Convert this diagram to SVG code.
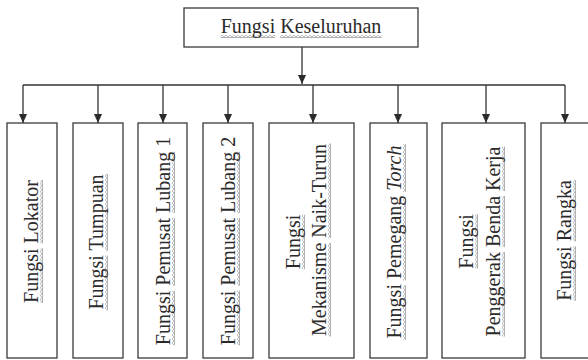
<svg xmlns="http://www.w3.org/2000/svg" width="588" height="360" viewBox="0 0 588 360">
  <defs>
    <marker id="arr" markerUnits="userSpaceOnUse" markerWidth="10" markerHeight="10" refX="9" refY="4" orient="auto">
      <path d="M0,0 L9,4 L0,8 Z" fill="#2b2b2b"/>
    </marker>
    <pattern id="wave" patternUnits="userSpaceOnUse" width="4" height="3">
      <path d="M0,0.6 L2,2.4 L4,0.6" fill="none" stroke="#6e6e6e" stroke-width="1"/>
    </pattern>
  </defs>
  <style>
    .box{fill:#fff;stroke:#3a3a3a;stroke-width:1.3}
    .lbl{font-family:"Liberation Serif","Times New Roman",serif;font-size:20px;fill:#2b2b2b;text-anchor:middle}
    .sq{fill:url(#wave)}
    .con line{stroke:#333;stroke-width:1.3;fill:none}
  </style>
  <rect width="588" height="360" fill="#fff"/>

  <g id="connectors" class="con">
    <line x1="302" y1="47" x2="302" y2="84" marker-end="url(#arr)"/>
    <line x1="23" y1="85" x2="565" y2="85"/>
    <line x1="23" y1="85" x2="23" y2="123" marker-end="url(#arr)"/>
    <line x1="98" y1="85" x2="98" y2="123" marker-end="url(#arr)"/>
    <line x1="163" y1="85" x2="163" y2="123" marker-end="url(#arr)"/>
    <line x1="228" y1="85" x2="228" y2="123" marker-end="url(#arr)"/>
    <line x1="313" y1="85" x2="313" y2="123" marker-end="url(#arr)"/>
    <line x1="398" y1="85" x2="398" y2="123" marker-end="url(#arr)"/>
    <line x1="486" y1="85" x2="486" y2="123" marker-end="url(#arr)"/>
    <line x1="565" y1="85" x2="565" y2="123" marker-end="url(#arr)"/>
  </g>

  <g id="node-keseluruhan">
    <rect class="box" x="184" y="8" width="234" height="39"/>
    <rect class="sq" x="220.7" y="35" width="54.5" height="3"/>
    <rect class="sq" x="280.2" y="35" width="101.1" height="3"/>
    <text class="lbl" x="301" y="33">Fungsi Keseluruhan</text>
  </g>

  <g id="node-lokator">
    <rect class="box" x="7" y="123" width="50" height="235"/>
    <g transform="translate(38 241.5) rotate(-90)">
      <rect class="sq" x="-61.4" y="2" width="54.5" height="3"/>
      <rect class="sq" x="-1.9" y="2" width="63.3" height="3"/>
      <text class="lbl" x="0" y="0">Fungsi Lokator</text>
    </g>
  </g>

  <g id="node-tumpuan">
    <rect class="box" x="73" y="123" width="50" height="235"/>
    <g transform="translate(103 242) rotate(-90)">
      <rect class="sq" x="-68.1" y="2" width="54.5" height="3"/>
      <rect class="sq" x="-8.6" y="2" width="76.7" height="3"/>
      <text class="lbl" x="0" y="0">Fungsi Tumpuan</text>
    </g>
  </g>

  <g id="node-pemusat1">
    <rect class="box" x="138" y="123" width="49" height="235"/>
    <g transform="translate(170 241) rotate(-90)">
      <rect class="sq" x="-104.2" y="2" width="54.5" height="3"/>
      <rect class="sq" x="-44.7" y="2" width="67.8" height="3"/>
      <rect class="sq" x="28.1" y="2" width="61.1" height="3"/>
      <text class="lbl" x="0" y="0">Fungsi Pemusat Lubang 1</text>
    </g>
  </g>

  <g id="node-pemusat2">
    <rect class="box" x="203" y="123" width="50" height="235"/>
    <g transform="translate(235 241) rotate(-90)">
      <rect class="sq" x="-104.2" y="2" width="54.5" height="3"/>
      <rect class="sq" x="-44.7" y="2" width="67.8" height="3"/>
      <rect class="sq" x="28.1" y="2" width="61.1" height="3"/>
      <text class="lbl" x="0" y="0">Fungsi Pemusat Lubang 2</text>
    </g>
  </g>

  <g id="node-mekanisme">
    <rect class="box" x="269" y="123" width="85" height="235"/>
    <g transform="translate(300 242) rotate(-90)">
      <rect class="sq" x="-27.2" y="2" width="54.5" height="3"/>
      <text class="lbl" x="0" y="0">Fungsi</text>
    </g>
    <g transform="translate(326 240) rotate(-90)">
      <rect class="sq" x="-96.4" y="2" width="93.3" height="3"/>
      <rect class="sq" x="2" y="2" width="94.4" height="3"/>
      <text class="lbl" x="0" y="0">Mekanisme Naik-Turun</text>
    </g>
  </g>

  <g id="node-pemegang">
    <rect class="box" x="370" y="123" width="57" height="235"/>
    <g transform="translate(401 242) rotate(-90)">
      <rect class="sq" x="-97.8" y="2" width="54.5" height="3"/>
      <rect class="sq" x="-38.3" y="2" width="83.3" height="3"/>
      <rect class="sq" x="50" y="2" width="47.8" height="3"/>
      <text class="lbl" x="0" y="0">Fungsi Pemegang <tspan font-style="italic">Torch</tspan></text>
    </g>
  </g>

  <g id="node-penggerak">
    <rect class="box" x="442" y="123" width="83" height="235"/>
    <g transform="translate(473 241.5) rotate(-90)">
      <rect class="sq" x="-27.2" y="2" width="54.5" height="3"/>
      <text class="lbl" x="0" y="0">Fungsi</text>
    </g>
    <g transform="translate(500 241.5) rotate(-90)">
      <rect class="sq" x="-95" y="2" width="84.4" height="3"/>
      <rect class="sq" x="-5.6" y="2" width="51.1" height="3"/>
      <rect class="sq" x="50.5" y="2" width="44.4" height="3"/>
      <text class="lbl" x="0" y="0">Penggerak Benda Kerja</text>
    </g>
  </g>

  <g id="node-rangka">
    <rect class="box" x="541" y="123" width="52" height="235"/>
    <g transform="translate(571 240.5) rotate(-90)">
      <rect class="sq" x="-60.3" y="2" width="54.5" height="3"/>
      <rect class="sq" x="-0.8" y="2" width="61.1" height="3"/>
      <text class="lbl" x="0" y="0">Fungsi Rangka</text>
    </g>
  </g>
</svg>
